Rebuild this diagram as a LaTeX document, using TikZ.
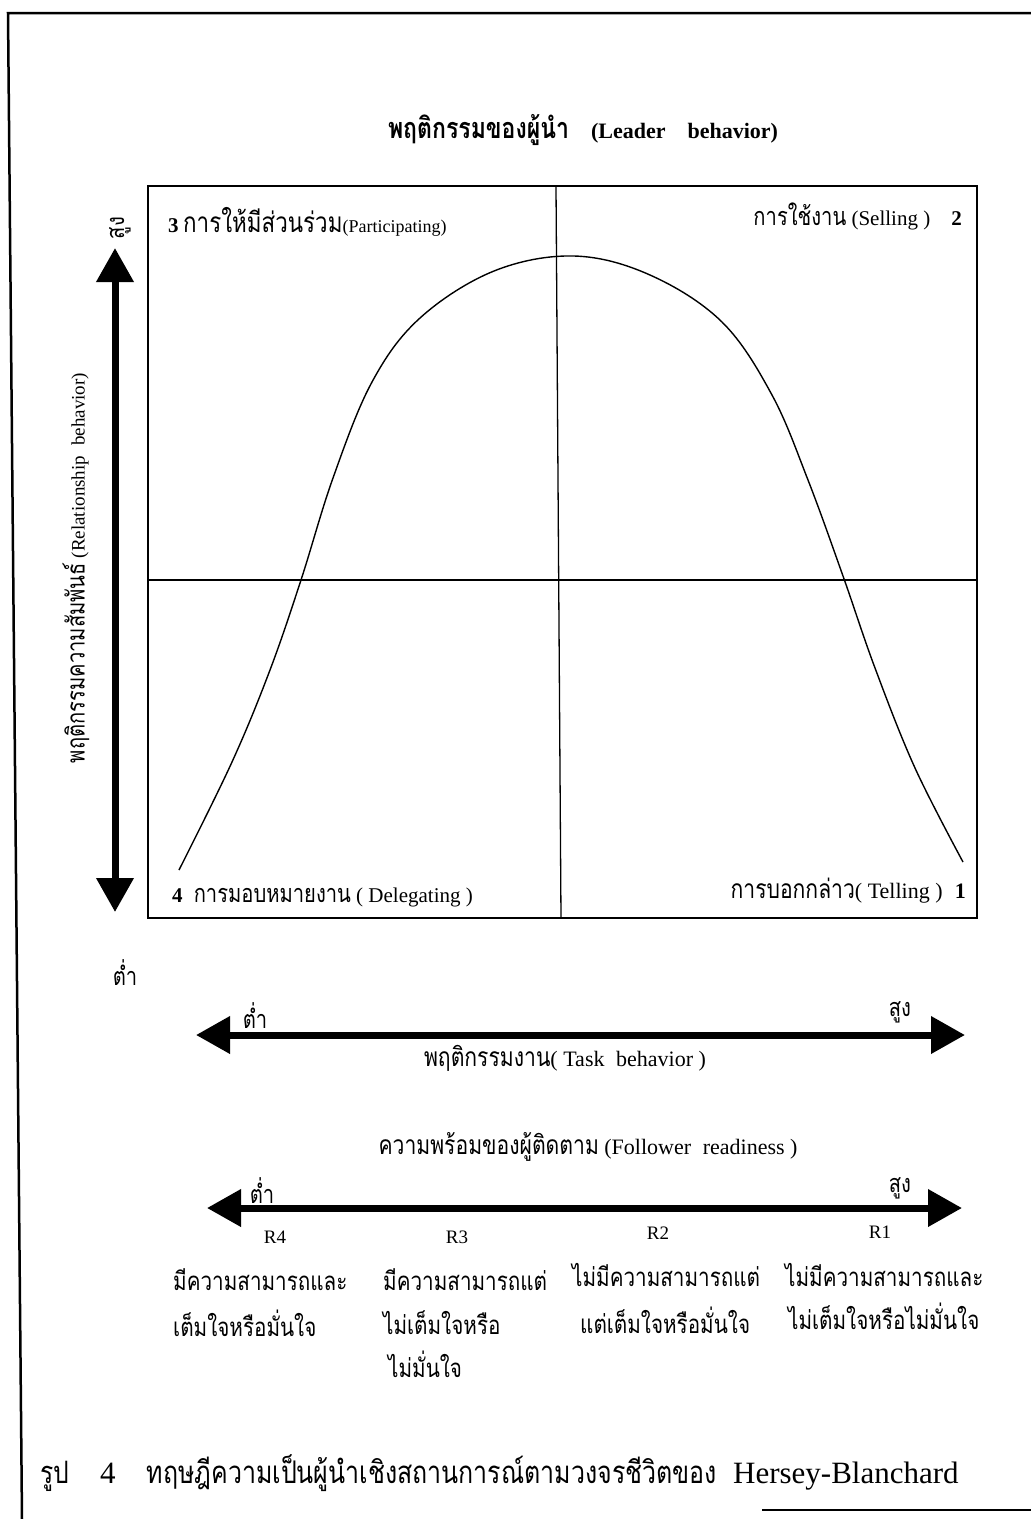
\documentclass[tikz,border=0pt]{standalone}
\usepackage{fontspec}
\setmainfont{Liberation Serif}
\newfontfamily\thaifont[Script=Thai,FakeStretch=0.8,Scale=1.2]{Loma}
\usetikzlibrary{arrows.meta}
\newcommand\thtxt[1]{{\thaifont #1}}
\begin{document}
\begin{tikzpicture}[x=1pt,y=-1pt,
  lbl/.style={inner sep=0pt, font=\fontsize{21}{23}\selectfont},
  desc/.style={inner sep=0pt, anchor=west, font=\fontsize{21.5}{24}\selectfont},
  rlbl/.style={inner sep=0pt, font=\fontsize{19}{21}\selectfont},
  bigarrow/.style={line width=7pt, {Triangle[length=34pt,width=36pt]}-{Triangle[length=34pt,width=36pt]}},
  frame/.style={line width=2.5pt},
  boxline/.style={line width=2pt},
  divline/.style={line width=1.3pt},
  curveline/.style={line width=1.4pt}]
\useasboundingbox (0,0) rectangle (1031,1519);
\fill[white] (0,0) rectangle (1031,1519);

% page frame
\coordinate (pfTR) at (1031,13);
\coordinate (pfTL) at (8,13);
\coordinate (pfBL) at (22,1519);
\draw[frame] (pfTR) -- (pfTL) -- (pfBL);
\coordinate (pfB1) at (762,1510);
\coordinate (pfB2) at (1031,1510);
\draw[line width=1.5pt] (pfB1) -- (pfB2);

% title
\node[lbl, font=\fontsize{22}{24}\selectfont\bfseries] (title) at (583,130)
  {{\fontsize{24}{26}\selectfont\thtxt{พฤติกรรมของผู้นำ}}\quad (Leader\quad behavior)};

% main box
\coordinate (bTL) at (148,186);
\coordinate (bBR) at (977,918);
\draw[boxline] (bTL) rectangle (bBR);
\coordinate (vTop) at (556,186);
\coordinate (vBot) at (561,918);
\draw[divline] (vTop) -- (vBot);
\coordinate (hL) at (148,580);
\coordinate (hR) at (977,580);
\draw[divline] (hL) -- (hR);

% curve
\draw[curveline] plot[smooth, tension=0.6] coordinates {
  (179,870) (232,762) (270,670) (301,580) (333,478) (372,382)
  (420,318) (494,271) (574,256) (650,275) (722,322) (772,395)
  (808,480) (843,576) (875,668) (915,768) (963,862)};

% quadrant labels
\node[lbl, anchor=west, font=\fontsize{18}{20}\selectfont] (q3) at (168,222)
  {{\fontsize{21}{23}\selectfont\textbf{3}} {\fontsize{23.3}{25}\selectfont\thtxt{การให้มีส่วนร่วม}}(Participating)};
\node[lbl, anchor=east] (q2) at (962,216) {\thtxt{การใช้งาน} (Selling )\quad\textbf{2}};
\node[lbl, anchor=west] (q4) at (172,897) {\textbf{4}\; \thtxt{การมอบหมายงาน} ( Delegating )};
\node[lbl, anchor=east, font=\fontsize{22}{24}\selectfont] (q1) at (966,891) {\thtxt{การบอกกล่าว}( Telling )\;\;\textbf{1}};

% vertical axis
\coordinate (vaTop) at (115,248);
\coordinate (vaBot) at (115,912);
\draw[bigarrow] (vaBot) -- (vaTop);
\node[lbl, rotate=90, font=\fontsize{19}{21}\selectfont] (vlabel) at (76,568)
  {{\fontsize{21}{23}\selectfont\thtxt{พฤติกรรมความสัมพันธ์}} (Relationship\; behavior)};
\node[lbl, rotate=90] (vhigh) at (120,228) {\thtxt{สูง}};
\node[lbl] (vlow) at (125,973) {\thtxt{ต่ำ}};

% task behavior axis
\coordinate (taL) at (196,1035);
\coordinate (taR) at (965,1035);
\draw[bigarrow] (taL) -- (taR);
\node[lbl] (tlow) at (255,1016) {\thtxt{ต่ำ}};
\node[lbl] (thigh) at (900,1012) {\thtxt{สูง}};
\node[lbl, font=\fontsize{22}{24}\selectfont] (tlabel) at (565,1058) {\thtxt{พฤติกรรมงาน}( Task\; behavior )};

% follower readiness axis
\node[lbl, font=\fontsize{22}{24}\selectfont] (flabel) at (588,1147) {\thtxt{ความพร้อมของผู้ติดตาม} (Follower\; readiness )};
\coordinate (faL) at (207,1208);
\coordinate (faR) at (962,1208);
\draw[bigarrow] (faL) -- (faR);
\node[lbl] (flow) at (262,1191) {\thtxt{ต่ำ}};
\node[lbl] (fhigh) at (900,1188) {\thtxt{สูง}};

\node[rlbl] (r4) at (275,1237) {R4};
\node[rlbl] (r3) at (457,1237) {R3};
\node[rlbl] (r2) at (658,1233) {R2};
\node[rlbl] (r1) at (880,1232) {R1};

% descriptions
\node[desc] (d4a) at (173,1280) {\thtxt{มีความสามารถและ}};
\node[desc] (d4b) at (173,1323) {\thtxt{เต็มใจหรือมั่นใจ}};
\node[desc] (d3a) at (383,1280) {\thtxt{มีความสามารถแต่}};
\node[desc] (d3b) at (383,1323) {\thtxt{ไม่เต็มใจหรือ}};
\node[desc] (d3c) at (388,1364) {\thtxt{ไม่มั่นใจ}};
\node[desc] (d2a) at (572,1275) {\thtxt{ไม่มีความสามารถแต่}};
\node[desc] (d2b) at (580,1320) {\thtxt{แต่เต็มใจหรือมั่นใจ}};
\node[desc] (d1a) at (785,1275) {\thtxt{ไม่มีความสามารถและ}};
\node[desc] (d1b) at (788,1316) {\thtxt{ไม่เต็มใจหรือไม่มั่นใจ}};

% caption
\node[inner sep=0pt, anchor=west, font=\fontsize{31}{33}\selectfont] (caption) at (40,1473)
  {{\fontsize{25.7}{28}\selectfont\thtxt{รูป}}\quad 4\quad {\fontsize{26}{28}\selectfont\thtxt{ทฤษฎีความเป็นผู้นำเชิงสถานการณ์ตามวงจรชีวิตของ}}\; Hersey-Blanchard};
\end{tikzpicture}
\end{document}
